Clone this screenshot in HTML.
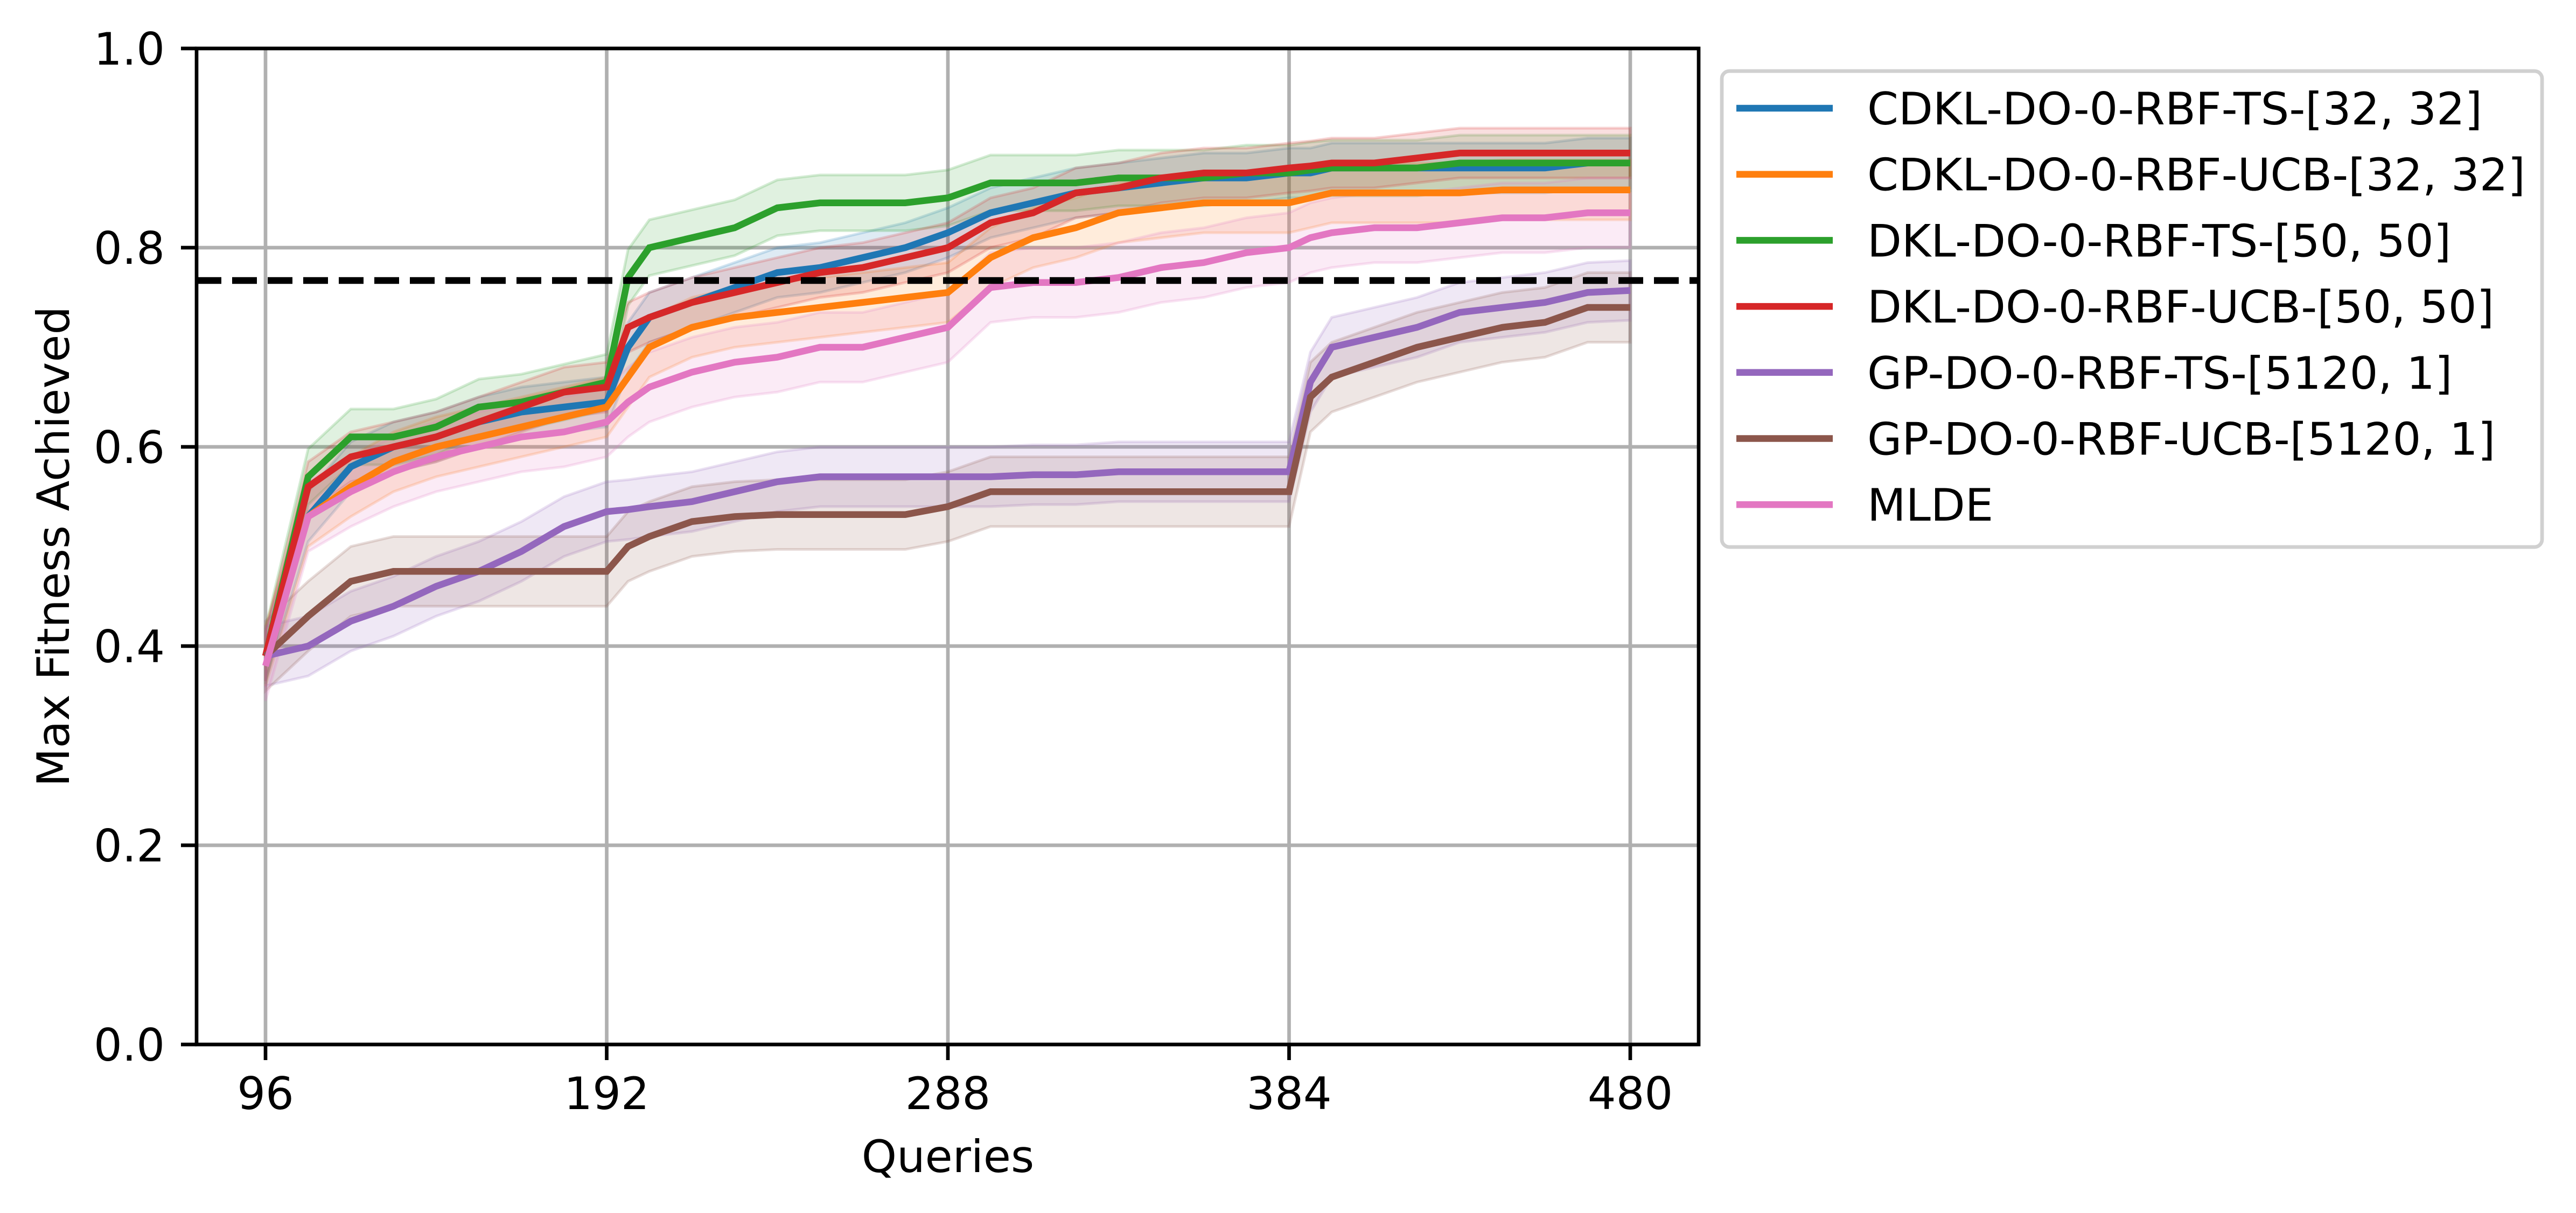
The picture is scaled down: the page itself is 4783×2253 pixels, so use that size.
<!DOCTYPE html>
<html><head><meta charset="utf-8"><style>
html,body{margin:0;padding:0;background:#fff;}
svg{display:block;font-family:"DejaVu Sans","Liberation Sans",sans-serif;}
</style></head><body>
<svg id="chart" width="4783" height="2253" viewBox="0 0 4783 2253" xmlns="http://www.w3.org/2000/svg">
<rect width="4783" height="2253" fill="#fff"/>
<g id="grid"></g>
<g id="bands"></g>
<g id="lines"></g>
<line id="target" x1="365" x2="3154" stroke="#000" stroke-width="12.5" stroke-dasharray="46,20"/>
<rect x="365" y="90" width="2789" height="1850" fill="none" stroke="#000" stroke-width="6.7"/>
<g id="ticks" font-size="83"></g>
<text x="1760" y="2177" font-size="83" text-anchor="middle">Queries</text>
<text transform="translate(128,1015) rotate(-90)" font-size="83" text-anchor="middle">Max Fitness Achieved</text>
<g id="legend">
<rect x="3197" y="132" width="1523" height="884" rx="14" fill="#fff" stroke="#d0d0d0" stroke-width="6.7"/>
</g>
</svg>
<script>
const queries=[96,108,120,132,144,156,168,180,192,198,204,216,228,240,252,264,276,288,300,312,324,336,348,360,372,384,390,396,408,420,432,444,456,468,480];
const seriesNames=["CDKL-DO-0-RBF-TS-[32, 32]","CDKL-DO-0-RBF-UCB-[32, 32]","DKL-DO-0-RBF-TS-[50, 50]","DKL-DO-0-RBF-UCB-[50, 50]","GP-DO-0-RBF-TS-[5120, 1]","GP-DO-0-RBF-UCB-[5120, 1]","MLDE"];
const seriesColors=["#1f77b4","#ff7f0e","#2ca02c","#d62728","#9467bd","#8c564b","#e377c2"];
const cdklTS=[0.39,0.53,0.58,0.60,0.61,0.625,0.635,0.64,0.645,0.70,0.73,0.745,0.76,0.775,0.78,0.79,0.80,0.815,0.835,0.845,0.855,0.86,0.865,0.87,0.87,0.875,0.875,0.88,0.88,0.88,0.88,0.88,0.88,0.885,0.885];
const cdklUCB=[0.39,0.53,0.56,0.585,0.60,0.61,0.62,0.63,0.64,0.67,0.70,0.72,0.73,0.735,0.74,0.745,0.75,0.755,0.79,0.81,0.82,0.835,0.84,0.845,0.845,0.845,0.85,0.855,0.855,0.855,0.855,0.858,0.858,0.858,0.858];
const dklTS=[0.39,0.57,0.61,0.61,0.62,0.64,0.645,0.655,0.665,0.77,0.80,0.81,0.82,0.84,0.845,0.845,0.845,0.85,0.865,0.865,0.865,0.87,0.87,0.87,0.875,0.875,0.878,0.88,0.88,0.88,0.885,0.885,0.885,0.885,0.885];
const dklUCB=[0.39,0.56,0.59,0.60,0.61,0.625,0.64,0.655,0.66,0.72,0.73,0.745,0.755,0.765,0.775,0.78,0.79,0.80,0.825,0.835,0.855,0.86,0.87,0.875,0.875,0.88,0.882,0.885,0.885,0.89,0.895,0.895,0.895,0.895,0.895];
const gpTS=[0.39,0.40,0.425,0.44,0.46,0.475,0.495,0.52,0.535,0.537,0.54,0.545,0.555,0.565,0.57,0.57,0.57,0.57,0.57,0.572,0.572,0.575,0.575,0.575,0.575,0.575,0.665,0.70,0.71,0.72,0.735,0.74,0.745,0.755,0.757];
const gpUCB=[0.39,0.43,0.465,0.475,0.475,0.475,0.475,0.475,0.475,0.50,0.51,0.525,0.53,0.532,0.532,0.532,0.532,0.54,0.555,0.555,0.555,0.555,0.555,0.555,0.555,0.555,0.65,0.67,0.685,0.70,0.71,0.72,0.725,0.74,0.74];
const mlde=[0.38,0.53,0.555,0.575,0.59,0.60,0.61,0.615,0.625,0.645,0.66,0.675,0.685,0.69,0.70,0.70,0.71,0.72,0.76,0.765,0.765,0.77,0.78,0.785,0.795,0.80,0.81,0.815,0.82,0.82,0.825,0.83,0.83,0.835,0.835];
const bandHalfWidths=[0.025,0.03,0.028,0.025,0.03,0.035,0.035];
const xTicks=[96,192,288,384,480];
const yTicks=[0.0,0.2,0.4,0.6,0.8,1.0];
const yTickLabels=["0.0","0.2","0.4","0.6","0.8","1.0"];
const targetValue=0.767;
const allSeries=[cdklTS,cdklUCB,dklTS,dklUCB,gpTS,gpUCB,mlde];

const NS="http://www.w3.org/2000/svg";
const L=365,R=3154,T=90,B=1940;
function xs(q){return 493+(q-96)*(3027-493)/384;}
function ys(v){return B-v*(B-T);}
function mk(tag,attrs,parent){const e=document.createElementNS(NS,tag);for(const k in attrs)e.setAttribute(k,attrs[k]);parent.appendChild(e);return e;}
const grid=document.getElementById('grid'),ticks=document.getElementById('ticks');
xTicks.forEach(q=>{
  const g=mk('line',{x1:xs(q),x2:xs(q),y1:T,y2:B,stroke:'#b0b0b0','stroke-width':6.7},grid);
  
  
  const t=mk('line',{x1:xs(q),x2:xs(q),y1:B,y2:B+29,stroke:'#000','stroke-width':6.7},ticks);
  
  
  const lb=mk('text',{x:xs(q),y:2060,'text-anchor':'middle'},ticks);lb.textContent=q;
  
  
});
yTicks.forEach((v,i)=>{
  const g=mk('line',{x1:L,x2:R,y1:ys(v),y2:ys(v),stroke:'#b0b0b0','stroke-width':6.7},grid);
  
  
  const t=mk('line',{x1:L-29,x2:L,y1:ys(v),y2:ys(v),stroke:'#000','stroke-width':6.7},ticks);
  
  
  const lb=mk('text',{x:306,y:ys(v)+30,'text-anchor':'end'},ticks);lb.textContent=yTickLabels[i];
  
  
});
const tl=document.getElementById('target');tl.setAttribute('y1',ys(targetValue));tl.setAttribute('y2',ys(targetValue));
const bands=document.getElementById('bands'),lines=document.getElementById('lines'),legend=document.getElementById('legend');
allSeries.forEach((s,k)=>{
  const hw=bandHalfWidths[k];
  let up=queries.map((q,i)=>xs(q)+','+ys(s[i]+hw));
  let dn=queries.map((q,i)=>xs(q)+','+ys(s[i]-hw)).reverse();
  const b=mk('polygon',{points:up.concat(dn).join(' '),fill:seriesColors[k],'fill-opacity':0.15,stroke:seriesColors[k],'stroke-opacity':0.2,'stroke-width':5},bands);
  
  
  const p=mk('polyline',{points:queries.map((q,i)=>xs(q)+','+ys(s[i])).join(' '),fill:'none',stroke:seriesColors[k],'stroke-width':12.5,'stroke-linejoin':'miter'},lines);
  
  
  const y=201+k*122.7;
  const h=mk('line',{x1:3224,x2:3403,y1:y,y2:y,stroke:seriesColors[k],'stroke-width':12.5},legend);
  
  
  const t=mk('text',{x:3467,y:y+30,'font-size':83},legend);t.textContent=seriesNames[k];
  
  
});
</script>
</body></html>
